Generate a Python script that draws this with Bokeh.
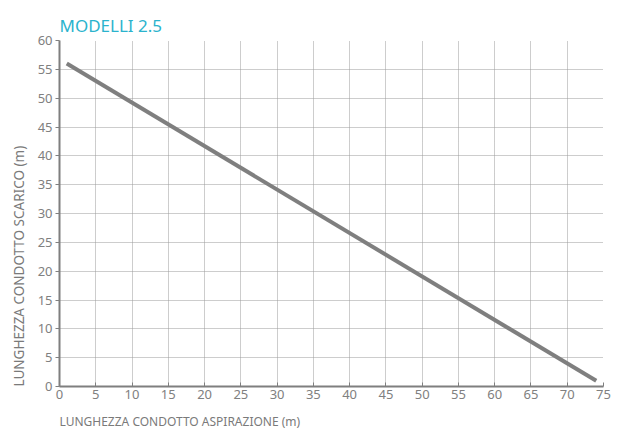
from bokeh.plotting import figure
from bokeh.models import Range1d, FixedTicker, Title
from bokeh.embed import file_html
from bokeh.resources import INLINE

# data
aspirazione = [1, 74]
scarico = [56, 1]
x_ticks = list(range(0, 80, 5))
y_ticks = list(range(0, 65, 5))

FONT = "Noto Sans"
GRAY = "#7f7f7f"

p = figure(width=611, height=429, output_backend="svg", toolbar_location=None,
           x_range=Range1d(0, 75), y_range=Range1d(0, 60),
           frame_width=544, frame_height=346,
           min_border_left=59, min_border_right=8, min_border_top=40, min_border_bottom=43)
p.outline_line_color = None

p.title.text = "MODELLI 2.5"
p.title.text_color = "#2bb3cd"
p.title.text_font = FONT
p.title.text_font_size = "17px"
p.title.text_font_style = "normal"
p.title.align = "left"
p.title.standoff = 7

p.line(aspirazione, scarico, line_color=GRAY, line_width=4)

for ax in (p.xaxis, p.yaxis):
    ax.axis_line_color = GRAY
    ax.axis_line_width = 2
    ax.major_tick_line_color = GRAY
    ax.minor_tick_line_color = None
    ax.major_label_text_color = "#808080"
    ax.major_label_text_font = FONT
    ax.major_label_text_font_size = "13px"
p.xaxis.ticker = FixedTicker(ticks=x_ticks)
p.yaxis.ticker = FixedTicker(ticks=y_ticks)
p.xaxis.major_tick_in = 4
p.xaxis.major_tick_out = 0
p.yaxis.major_tick_in = 0
p.yaxis.major_tick_out = 4
p.xaxis.major_label_standoff = 3
p.yaxis.major_label_standoff = 3

p.grid.grid_line_color = "#9a9a9a"
p.grid.grid_line_dash = "1 1"
p.grid.grid_line_width = 1
p.xgrid.ticker = FixedTicker(ticks=x_ticks)
p.ygrid.ticker = FixedTicker(ticks=y_ticks)

xl = Title(text="LUNGHEZZA CONDOTTO ASPIRAZIONE (m)", align="left",
           text_font=FONT, text_font_size="12px", text_font_style="normal",
           text_color="#7a7a7a", standoff=19)
p.add_layout(xl, "below")
yl = Title(text="LUNGHEZZA CONDOTTO SCARICO (m)", align="left",
           text_font=FONT, text_font_size="13.5px", text_font_style="normal",
           text_color="#7a7a7a", standoff=14)
p.add_layout(yl, "left")

open("out.html", "w").write(file_html(p, INLINE))
